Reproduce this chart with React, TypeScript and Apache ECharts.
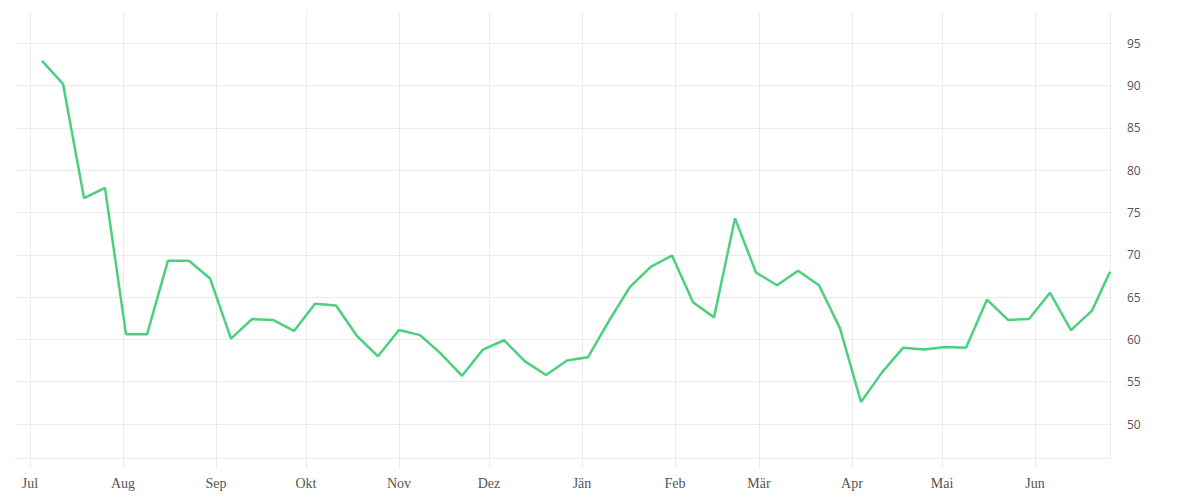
import React, { useEffect, useRef } from "react";
import * as echarts from "echarts";

const MONTH_LABELS = ["Jän", "Feb", "Mär", "Apr", "Mai", "Jun", "Jul", "Aug", "Sep", "Okt", "Nov", "Dez"];

const DATES = [
  "2022-07-05", "2022-07-12", "2022-07-19", "2022-07-26",
  "2022-08-02", "2022-08-09", "2022-08-16", "2022-08-23", "2022-08-30",
  "2022-09-06", "2022-09-13", "2022-09-20", "2022-09-27",
  "2022-10-04", "2022-10-11", "2022-10-18", "2022-10-25",
  "2022-11-01", "2022-11-08", "2022-11-15", "2022-11-22", "2022-11-29",
  "2022-12-06", "2022-12-13", "2022-12-20", "2022-12-27",
  "2023-01-03", "2023-01-10", "2023-01-17", "2023-01-24", "2023-01-31",
  "2023-02-07", "2023-02-14", "2023-02-21", "2023-02-28",
  "2023-03-07", "2023-03-14", "2023-03-21", "2023-03-28",
  "2023-04-04", "2023-04-11", "2023-04-18", "2023-04-25",
  "2023-05-02", "2023-05-09", "2023-05-16", "2023-05-23", "2023-05-30",
  "2023-06-06", "2023-06-13", "2023-06-20", "2023-06-26",
];

const VALUES = [
  92.9, 90.2, 76.7, 77.9,
  60.6, 60.6, 69.3, 69.3, 67.2,
  60.1, 62.4, 62.3, 61.0,
  64.2, 64.0, 60.4, 58.0,
  61.1, 60.5, 58.3, 55.7, 58.8,
  59.9, 57.4, 55.8, 57.5,
  57.9, 62.2, 66.2, 68.6, 69.9,
  64.4, 62.6, 74.3, 67.9,
  66.4, 68.1, 66.4, 61.3,
  52.6, 56.1, 59.0, 58.8,
  59.1, 59.0, 64.7, 62.3, 62.4,
  65.5, 61.1, 63.4, 68.0,
];

const X_MIN = "2022-06-26";
const X_MAX = "2023-06-26";
const Y_MIN = 45.95;
const Y_MAX = 98.6;

function toLocalTime(s: string): number {
  const [y, m, d] = s.split("-").map(Number);
  return new Date(y, m - 1, d).getTime();
}

export default function App() {
  const ref = useRef<HTMLDivElement>(null);

  useEffect(() => {
    if (!ref.current) return;
    const chart = echarts.init(ref.current, undefined, { renderer: "svg" });
    const grid = "#ebebeb";
    chart.setOption({
      animation: false,
      backgroundColor: "#ffffff",
      grid: { left: 15, right: 90, top: 12.7, bottom: 41.7, containLabel: false },
      xAxis: {
        type: "time",
        min: toLocalTime(X_MIN),
        max: toLocalTime(X_MAX),
        minInterval: 28 * 24 * 3600 * 1000,
        maxInterval: 31 * 24 * 3600 * 1000,
        axisLine: { show: true, lineStyle: { color: grid, width: 1 } },
        axisTick: { show: true, length: 10, lineStyle: { color: grid, width: 1 } },
        splitLine: { show: true, showMinLine: false, showMaxLine: false, lineStyle: { color: grid, width: 1 } },
        axisLabel: {
          show: true,
          showMinLabel: false,
          showMaxLabel: false,
          margin: 18,
          fontFamily: "Liberation Serif",
          fontSize: 14,
          color: "#555555",
          formatter: (value: number) => MONTH_LABELS[new Date(value).getMonth()],
        },
      },
      yAxis: {
        type: "value",
        position: "right",
        min: Y_MIN,
        max: Y_MAX,
        minInterval: 5,
        maxInterval: 5,
        axisLine: { show: true, lineStyle: { color: grid, width: 1 } },
        axisTick: { show: false },
        splitLine: { show: true, showMinLine: false, showMaxLine: false, lineStyle: { color: grid, width: 1 } },
        axisLabel: {
          show: true,
          showMinLabel: false,
          showMaxLabel: false,
          margin: 17,
          fontFamily: "Open Sans",
          fontSize: 12,
          color: "#555555",
        },
      },
      series: [
        {
          type: "line",
          data: DATES.map((d, i) => [toLocalTime(d), VALUES[i]]),
          showSymbol: false,
          symbol: "none",
          smooth: false,
          lineStyle: { color: "#4cd07d", width: 2.5 },
          itemStyle: { color: "#4cd07d" },
        },
      ],
    });
    return () => chart.dispose();
  }, []);

  return (
    <div
      ref={ref}
      style={{ position: "fixed", left: 0, top: 0, width: 1200, height: 500, background: "#fff" }}
    />
  );
}
